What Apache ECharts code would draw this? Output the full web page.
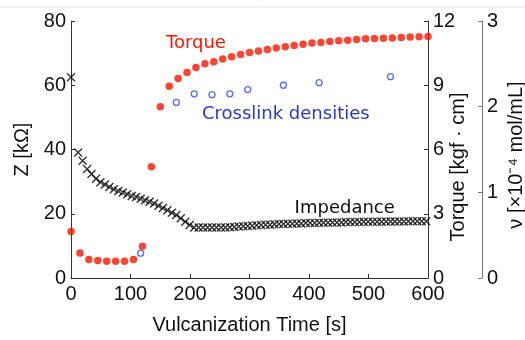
<!DOCTYPE html>
<html>
<head>
<meta charset="utf-8">
<script src="https://cdn.jsdelivr.net/npm/echarts@6/dist/echarts.min.js"></script>
<style>
  html, body { margin: 0; padding: 0; background: #fff; }
  #chart { width: 525px; height: 340px; }
</style>
</head>
<body>
<div id="chart"></div>
<script>
// torque, sampled every 15 s
const torqueTime = [0, 15, 30, 45, 60, 75, 90, 105, 120, 135, 150, 165, 180, 195, 210, 225, 240, 255, 270, 285,
  300, 315, 330, 345, 360, 375, 390, 405, 420, 435, 450, 465, 480, 495, 510, 525, 540, 555, 570, 585, 600]
const torqueVals = [2.17, 1.17, 0.86, 0.82, 0.78, 0.78, 0.78, 0.86, 1.48, 5.2, 8.0, 8.95, 9.31, 9.6, 9.83, 10.0,
  10.1, 10.22, 10.33, 10.44, 10.53, 10.6, 10.67, 10.74, 10.8, 10.86, 10.92, 10.97, 11.0, 11.04, 11.08, 11.1,
  11.14, 11.17, 11.18, 11.2, 11.21, 11.23, 11.25, 11.26, 11.28]

// impedance Z [kOhm]
const impTime = [0, 12, 19.5, 27, 34.5, 42, 49.5, 57, 64.5, 72, 79.5, 87, 94.5, 102, 109.5, 117, 124.5, 132,
  139.5, 147, 154.5, 162, 169.5, 177, 184.5, 192, 199.5, 207, 214.5, 222, 229.5, 237, 244.5, 252, 259.5,
  267, 274.5, 282, 289.5, 297, 304.5, 312, 319.5, 327, 334.5, 342, 349.5, 357, 364.5, 372, 379.5, 387,
  394.5, 402, 409.5, 417, 424.5, 432, 439.5, 447, 454.5, 462, 469.5, 477, 484.5, 492, 499.5, 507, 514.5,
  522, 529.5, 537, 544.5, 552, 559.5, 567, 574.5, 582, 589.5, 597]
const impVals = [62.5, 39.1, 36.5, 33.9, 32.4, 30.9, 29.8, 29.1, 28.3, 27.6, 27.1, 26.6, 26.1, 25.5, 25.2,
  24.7, 24.2, 23.7, 23.2, 22.5, 21.8, 21.1, 20.3, 19.6, 18.6, 17.5, 16.5, 15.7, 15.7, 15.7, 15.7, 15.7,
  15.7, 15.7, 15.7, 15.8, 15.9, 16.0, 16.1, 16.2, 16.3, 16.4, 16.5, 16.6, 16.6, 16.7, 16.8, 16.8, 16.9,
  16.9, 17.0, 17.0, 17.1, 17.1, 17.1, 17.2, 17.2, 17.2, 17.3, 17.3, 17.3, 17.4, 17.4, 17.4, 17.4, 17.5,
  17.5, 17.5, 17.5, 17.5, 17.6, 17.6, 17.6, 17.6, 17.6, 17.7, 17.7, 17.7, 17.7, 17.7]

// crosslink density [x10^-4 mol/mL]
const nuTime = [117, 177, 207, 237, 267, 297, 357, 417, 537]
const nuVals = [0.29, 2.05, 2.15, 2.14, 2.15, 2.20, 2.25, 2.28, 2.35]

const xTicks = [0, 600, 100]
const zTicks = [0, 80, 20]
const torqueTicks = [0, 12, 3]
const nuTicks = [0, 3, 1]

const RED = '#ff1500'
const BLUE = '#2f45ff'
const AXIS = '#333'
const FONT = '"Liberation Sans", Arial, sans-serif'
const NOTE_FONT = '"DejaVu Sans", sans-serif'

const labelStyle = { color: '#111', fontSize: 20, fontFamily: FONT }

const pair = (xs, ys) => xs.map((x, i) => [x, ys[i]])

const valueAxis = (ticks, color) => ({
  type: 'value',
  min: ticks[0],
  max: ticks[1],
  interval: ticks[2],
  splitLine: { show: false },
  axisLine: { show: true, lineStyle: { color, width: 1 } },
  axisTick: { show: true, inside: true, length: 4, lineStyle: { color } },
  axisLabel: { ...labelStyle, margin: 5 }
})

const chart = echarts.init(document.getElementById('chart'), null, { renderer: 'canvas' })

const option = {
  animation: false,
  backgroundColor: '#fff',
  grid: { left: 71, right: 97, top: 21, bottom: 58 },
  xAxis: {
    ...valueAxis(xTicks, AXIS),
    name: 'Vulcanization Time [s]',
    nameLocation: 'middle',
    nameGap: 37,
    nameTextStyle: { ...labelStyle },
    axisLabel: { ...labelStyle, margin: 6 }
  },
  yAxis: [
    {
      ...valueAxis(zTicks, AXIS),
      position: 'left',
      name: 'Z [kΩ]',
      nameLocation: 'middle',
      nameGap: 34,
      nameTextStyle: { ...labelStyle }
    },
    {
      ...valueAxis(torqueTicks, AXIS),
      position: 'right'
    },
    {
      ...valueAxis(nuTicks, '#777'),
      position: 'right',
      offset: 54
    }
  ],
  series: [
    {
      name: 'Impedance',
      type: 'scatter',
      yAxisIndex: 0,
      symbol: 'path://M0,0L10,10M10,0L0,10',
      symbolSize: 8,
      itemStyle: { color: 'none', borderColor: '#000', borderWidth: 1.4 },
      data: pair(impTime, impVals),
      z: 2
    },
    {
      name: 'Torque',
      type: 'scatter',
      yAxisIndex: 1,
      symbol: 'circle',
      symbolSize: 7.5,
      itemStyle: { color: RED },
      data: pair(torqueTime, torqueVals),
      z: 3
    },
    {
      name: 'Crosslink densities',
      type: 'scatter',
      yAxisIndex: 2,
      symbol: 'circle',
      symbolSize: 6,
      itemStyle: { color: '#fff', borderColor: BLUE, borderWidth: 1.3 },
      data: pair(nuTime, nuVals),
      z: 4
    }
  ]
}

chart.setOption(option)

// annotations anchored in data coordinates (time, Z)
const at = (t, z) => chart.convertToPixel({ xAxisIndex: 0, yAxisIndex: 0 }, [t, z])
const note = (text, t, z, color) => {
  const [x, y] = at(t, z)
  return {
    type: 'text', x, y, silent: true,
    style: { text, fill: color, font: '18px ' + NOTE_FONT, textAlign: 'center', textVerticalAlign: 'middle' }
  }
}
const sideName = (text, x, y) => ({
  type: 'text', x, y, rotation: Math.PI / 2, silent: true,
  style: { text, fill: '#111', font: '20px ' + FONT, textAlign: 'center', textVerticalAlign: 'middle' }
})

chart.setOption({
  graphic: [
    { type: 'line', shape: { x1: 0, y1: 7, x2: 525, y2: 7 }, style: { stroke: '#e2e2e2', lineWidth: 1 }, silent: true },
    note('Torque', 210, 73.2, RED),
    note('Crosslink densities', 361, 50.8, '#2a36d0'),
    note('Impedance', 460, 21.8, '#111'),
    sideName('Torque [kgf · cm]', 458, 167),
    sideName('ν [×10⁻⁴ mol/mL]', 516, 155)
  ]
})
</script>
</body>
</html>
